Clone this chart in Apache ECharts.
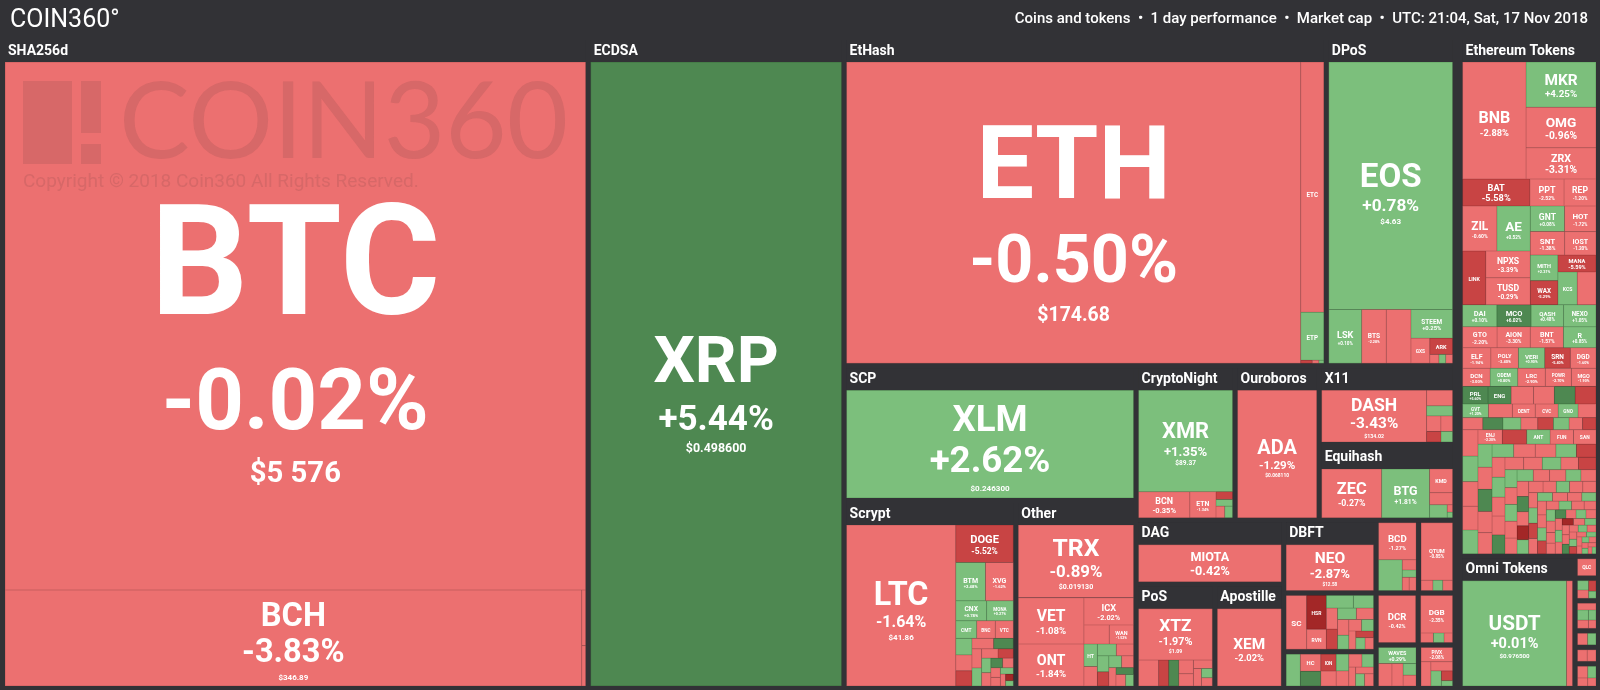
<!DOCTYPE html>
<html><head><meta charset="utf-8">
<script src="https://cdn.jsdelivr.net/npm/echarts@6/dist/echarts.min.js"></script>
<style>html,body{margin:0;padding:0;background:#323236;overflow:hidden}#c{width:1600px;height:690px}</style>
</head><body><div id="c"></div>
<script>
// ---------------- DATA ----------------
// coin: [symbol, tile weight (relative tile area), 1-day change %, price label]
const sha256d   = [['BTC',3068,-0.02,'$5 576'],['BCH',554,-3.83,'$346.89'],['NMC',2.2,-1.6],['PPC',1.6,-2.4]];
const ecdsa     = [['XRP',1566,5.44,'$0.498600']];
const etHash    = [['ETH',1361,-0.50,'$174.68'],['ETC',57.5,-1.52],['ETP',11,1.04],['UBQ',0.35,-6.2],['EXP',0.2,-2.1],['ELLA',0.15,1.3]];
const dPoS      = [['EOS',305,0.78,'$4.63'],['LSK',17.6,0.10],['BTS',13.2,-2.28],['NANO',13.2,-1.68],['STEEM',11.9,0.25],['GXS',4.7,-1.50],['ARK',3.7,-6.10],['SHIFT',0.8,-2.5],['OXY',0.6,1.8],['RISE',0.6,-3.1]];
const scp       = [['XLM',310,2.62,'$0.246300']];
const scrypt    = [['LTC',171,-1.64,'$41.86'],['DOGE',20.9,-5.52],['BTM',11.1,2.48],['XVG',10.4,-1.62],['CNX',6.0,0.78],['MONA',5.2,0.27],['CMT',3.6,1.60],['BNC',3.2,-2.04],['VTC',3.1,-2.6],['EMC2',2.6,1.9],['SYS',2.5,-4.1],['GRS',2.4,-6.3],['XMY',2.2,-1.1],['FTC',2.0,5.8],['NLG',1.8,-2.9],['VIA',1.7,0.9],['DGC',1.5,-3.4],['LCC',1.4,-7.2],['EXCL',1.3,2.2],['GAME',1.2,-1.9],['NYC',1.1,6.5],['MOON',1.0,-4.4],['CANN',0.9,-2.2],['PXC',0.8,-3.0],['BITB',0.8,1.1],['ZEIT',0.6,-1.5],['HYP',0.5,-8.6],['TIT',0.4,0.7]];
const otherTop  = ['TRX',82.8,-0.89,'$0.019130'];
const otherMid  = [['VET',29.9,-1.08],['ONT',27.3,-1.84]];
const otherSide = [['ICX',13.3,-2.02],['MOAC',4.8,-1.22],['WAN',4.6,-1.52],['HT',3.0,0.24],['NAS',2.6,-2.4],['WICC',2.2,1.6],['IOTX',2.0,-3.1],['SOC',1.8,0.7],['DDD',1.6,-5.6],['QKC',1.5,2.9],['ZB',1.4,-1.2],['BIX',1.3,-0.6],['ABT',1.2,6.1],['MDS',1.1,-2.2],['NEW',0.9,1.4]];
const cryptoNight = [['XMR',94.9,1.35,'$89.37'],['BCN',13.3,-0.35],['ETN',6.8,-1.34],['AEON',1.3,-6.4],['XHV',1.1,2.3],['LOKI',1.0,-2.0],['XTL',0.9,4.0]];
const ouroboros = [['ADA',100,-1.29,'$0.068110']];
const x11       = [['DASH',53.6,-3.43,'$134.02'],['ONION',4.0,-2.1],['GBX',2.6,0.8],['CRW',2.2,-1.5],['XSN',1.8,-3.0],['PAC',1.5,-6.5],['MUE',1.2,1.2]];
const equihash  = [['ZEC',29.4,-0.27],['BTG',23.5,1.81],['KMD',5.5,-1.21],['ZEN',2.8,-2.00],['BTCP',2.3,1.09],['ZCL',0.4,-3.3],['HUSH',0.3,2.0]];
const dag       = [['MIOTA',51.5,-0.42,'$0.416510']];
const pos       = [['XTZ',37.7,-1.97,'$1.09'],['ARDR',5.2,-1.80],['RDD',2.6,-5.6],['NXT',2.6,5.3],['BLK',2.0,-2.3],['POT',1.8,-1.1],['XWC',1.6,-2.7],['NAV',1.4,-0.9],['OK',1.0,3.1],['DCT',0.9,-4.4]];
const apostille = [['XEM',49.3,-2.02,'$0.086870']];
const dbft      = [['NEO',39.2,-2.87,'$12.58']];
const blake2b   = [['SC',11.2,-2.17],['HSR',6.8,-9.96],['RVN',4.0,-1.84],['BCT',3.5,2.21],['PART',2.6,1.4],['SKY',2.4,-2.2],['GBYTE',2.3,-6.9],['NXS',2.2,3.1],['EMC',2.0,-1.4],['BOS',1.8,-2.6],['XAS',1.6,0.6],['SMART',1.5,-3.5],['DGTX',1.4,2.4],['SBD',1.3,-1.1],['XDN',1.2,-6.0],['FCT',1.1,0.9],['NEBL',1.0,-2.3]];
const misc      = [['ELA',4.5,0.27],['HC',3.5,-2.1],['IGNIS',3.0,6.2],['ION',2.6,-7.5],['DTR',2.3,-1.6],['GAS',2.1,1.9],['NKN',1.9,-2.8],['XEL',1.7,-0.7],['MTL',1.5,2.6],['VTHO',1.3,-3.7],['UKG',1.2,-1.0],['EDR',1.1,4.4],['LBC',1.1,-2.4]];
const bcd       = [['BCD',13.7,-1.27],['STRAT',7.2,1.52],['BTX',1.4,-2.2],['BTCZ',1.0,3.2],['UBTC',0.9,-4.6],['LBTC',0.9,-1.3]];
const qtum      = [['QTUM',17.9,-0.85],['INK',1.2,-2.0],['QBT',1.0,2.4],['BOT',1.0,-1.1]];
const dcr       = [['DCR',17.5,-0.42]];
const dgb       = [['DGB',11.8,-2.35],['SIB',1.2,-1.9],['AUR',1.0,3.3],['UFO',0.8,-2.8]];
const waves     = [['WAVES',6.0,0.29],['WCT',3.0,-2.3],['MER',2.5,-1.7],['VST',1.5,2.1],['LIQ',1.4,-3.6]];
const pivx      = [['PIVX',4.5,-2.08],['PHR',2.4,-1.3],['XZC',2.0,-3.1],['DIVI',1.6,1.6],['CLOAK',1.1,-5.2],['BWK',0.6,2.2]];
const ethTop    = [['BNB',73.7,-2.88],['MKR',31.5,4.25],['OMG',28.0,-0.96],['ZRX',21.7,-3.31]];
const ethRow2   = [['BAT',18.1,-5.58],['PPT',9.2,-2.52],['REP',8.6,-1.20]];
const ethMidL   = [['ZIL',15.3,-0.60],['AE',14.9,0.52],['LINK',12.4,-6.10],['NPXS',11.9,-3.39],['TUSD',11.9,-0.29]];
const ethMidR   = [['GNT',8.7,0.08],['HOT',8.0,-1.72],['SNT',8.0,-1.38],['IOST',7.3,-1.20],['MITH',7.0,2.21],['WAX',6.6,-5.29],['MANA',6.4,-5.59],['KCS',6.3,0.16],['WTC',6.1,-0.57]];
const ethRestTotal = 330;
const ethRest   = [['DAI',5.6,0.10],['MCO',5.6,6.02],['QASH',5.3,0.48],['NEXO',5.3,1.05],['GTO',5.3,-2.20],['AION',5.1,-3.30],['BNT',5.1,-1.57],['R',5.0,0.85],['ELF',4.3,-1.94],['POLY',4.2,-3.40],['VERI',4.0,0.90],['SRN',3.9,-5.40],['DGD',3.9,-1.60],['DCN',3.7,-3.00],['ODEM',3.7,0.80],['LRC',3.7,-2.90],['POWR',3.5,-2.70],['MGO',3.3,-1.90],['PRL',3.3,5.60],['ENG',3.0,5.20],['DROP',2.9,-3.20],['CENNZ',2.7,-2.50],['CTXC',2.7,5.40],['SALT',2.7,-6.30],['GVT',2.6,1.20],['DRGN',2.4,-2.30],['DENT',2.3,-2.10],['CVC',2.3,-1.40],['GNO',2.0,1.40],['RHOC',1.8,-2.40],['CS',1.8,-1.10],['SLT',1.8,5.30],['RDN',1.6,1.60],['SUB',1.5,-1.90],['NULS',1.4,-5.30],['EDO',1.4,0.70],['FSN',1.2,-1.00],['GNX',1.2,-6.40],
  ['KNC',3.0,-2.6],['LOOM',2.9,1.3],['STORM',2.8,-3.9],['QSP',2.7,-1.2],['REQ',2.7,0.6],['ENJ',2.6,-2.2],['STORJ',2.6,-6.1],['ANT',2.5,1.9],['FUN',2.5,-0.9],['SAN',2.4,-3.1],['RLC',2.4,0.4],['BLZ',2.3,-1.7],['TNT',2.3,5.6],['AST',2.2,-2.8],['MTH',2.2,-0.4],['RCN',2.1,2.7],['WINGS',2.1,-4.4],['MLN',2.0,-1.3],['DNT',2.0,0.8],['IHT',1.9,-7.0],['THETA',1.9,-2.0],['INS',1.9,1.5],['HYDRO',1.8,-1.1],['TEL',1.8,-3.6],['DTA',1.8,6.3],['ABYSS',1.7,-0.7],['BFT',1.7,-2.4],['CPC',1.7,1.0],['DATA',1.6,-1.9],['EDG',1.6,-5.7],['GEN',1.6,0.3],['LYM',1.5,-2.9],['MFT',1.5,2.2],['NCASH',1.5,-1.4],['OCN',1.4,-3.3],['POE',1.4,0.9],['REN',1.4,-0.6],['SPANK',1.4,-2.5],['TAAS',1.3,1.7],['UTK',1.3,-4.0],['VIB',1.3,-1.0],['WPR',1.3,5.9],['XYO',1.2,-2.1],['YOYO',1.2,-8.4],['ZCO',1.2,0.5],['AMB',1.2,-1.6],['APPC',1.1,-3.0],['ARN',1.1,2.9],['BCPT',1.1,-0.8],['CDT',1.1,-2.7],['CND',1.0,-1.2],['COV',1.0,1.1],['DLT',1.0,-5.2],['EVX',1.0,-2.3],['GTC',0.95,0.7],['HST',0.95,-1.8],['KEY',0.9,-3.4],['LEND',0.9,4.1],['LUN',0.9,-0.5],['MDA',0.85,-2.2],['MOD',0.85,1.6],['NGC',0.85,-6.8],['OAX',0.8,-1.5],['PAY',0.8,0.2],['PPP',0.8,-2.6],['SNM',0.75,-1.0],['SNGLS',0.75,3.4],['TRAC',0.75,-3.8],['VEE',0.7,-0.9],['AIDOC',0.7,-2.0],['ATMI',0.7,6.6],['BOX',0.65,-1.4],['CAPP',0.65,0.9],['DAX',0.65,-4.7],['EKO',0.6,-2.9],['FOTA',0.6,1.4],['GET',0.6,-0.3],['HER',0.55,-9.1],['IPL',0.55,-1.7],['JNT',0.55,2.5],['LALA',0.5,-2.4],['MAN',0.5,-0.8],['NPER',0.5,7.2],['OST',0.45,-1.3],['PRO',0.45,0.6],['QAU',0.45,-3.5],['RUFF',0.4,-1.9],['SHIP',0.4,1.8],['TIO',0.4,-5.9],['UCASH',0.35,-0.7],['VIT',0.35,2.0],['XNK',0.35,-2.8],['YEE',0.3,-1.1],['ZAP',0.3,3.6],['AUC',0.3,-4.2],['BEE',0.25,-0.4],['CL',0.25,1.2],['DOR',0.25,-2.6],['EXRN',0.2,-1.6],['FLIXX',0.2,0.8]];
const omni      = [['USDT',108,0.01,'$0.976500'],['MAID',6.2,-1.9]];
const neoTok    = [['QLC',3.1,-2.6]];
const wavesTok  = [['TKY',1.6,1.2],['DBC',1.4,-2.2],['ZPT',1.2,-5.5],['THC',0.8,0.9]];
const xlmTok    = [['OPEN',1.8,-1.0],['CPX',1.6,0.6],['ACAT',1.3,-3.3],['SWTH',1.1,2.8],['MOBI',0.9,-1.6]];
const eosTok    = [['AVT',1.2,-1.7],['EFX',1.0,1.1]];
const btsTok    = [['SOUL',1.1,-2.5],['LRN',1.0,-0.9]];
const trxTok    = [['TNC',1.6,-1.8],['PKC',1.3,2.0],['ONG',1.1,-4.1],['RPX',0.9,-0.6]];

// group name, total tile weight of the group (incl. its header band), its coins (or sub-blocks)
const groupTotals = [
  ['SHA256d',3815,sha256d],['ECDSA',1667,ecdsa],['EtHash',1584,etHash],['DPoS',423,dPoS],['SCP',394,scp],
  ['Scrypt',323,scrypt],['Other',226,[otherTop,[otherMid,otherSide]]],['CryptoNight',153,cryptoNight],['Ouroboros',130,ouroboros],
  ['X11',107,x11],['Equihash',103,equihash],['DAG',94.7,dag],['PoS',82.2,pos],['Apostille',71.8,apostille],['DBFT',67.2,dbft],
  ['Blake2b',54.3,blake2b],['Misc',34.0,misc],['BCD',31.0,bcd],['QTUM',26.6,qtum],['DCR',21.9,dcr],['DGB',19.2,dgb],
  ['WAVES',18.5,waves],['PIVX',15.9,pivx],
  ['Ethereum Tokens',742,[ethTop,ethRow2,[ethMidL,ethMidR],{total:ethRestTotal,list:ethRest}]],
  ['Omni Tokens',157,omni],['NEO Tokens',5.3,neoTok],['Waves Tokens',5.5,wavesTok],['Stellar Tokens',7.3,xlmTok],
  ['EOS Tokens',4.0,eosTok],['Bitshares Tokens',4.0,btsTok],['TRON Tokens',6.0,trxTok]
];
// how the groups are nested (coins | tokens)
const arrangement = [
  ['SHA256d','ECDSA',[['EtHash','DPoS'],[['SCP',['Scrypt','Other']],[['CryptoNight',['Ouroboros',['X11','Equihash']]],[['DAG',['PoS','Apostille']],[['DBFT','Blake2b','Misc'],[['BCD','QTUM'],['DCR','DGB'],['WAVES','PIVX']]]]]]]],
  ['Ethereum Tokens',['Omni Tokens',['NEO Tokens','Waves Tokens','Stellar Tokens','EOS Tokens','Bitshares Tokens','TRON Tokens']]]
];

// ---------------- STYLE ----------------
const BG = '#323236';
const FONT = "Roboto,'Open Sans',sans-serif";
function tier(c){ if (c >= 5) return 0; if (c >= 0) return 1; if (c > -5) return 2; if (c > -8) return 3; return 4; }
const FILL = ['#4E8851','#7CBF7C','#EC7070','#C84444','#A32727'];
const EDGE = ['#3E7241','#63A463','#C95E5E','#A83737','#861D1D'];

const mctx = document.createElement('canvas').getContext('2d');
function emW(t){ mctx.font = 'bold 100px ' + FONT; return mctx.measureText(t).width / 100; }
function shadow(f){ const o = Math.max(0.6, f*0.04); return {textShadowColor:'rgba(28,22,22,0.8)', textShadowOffsetX:o, textShadowOffsetY:o, textShadowBlur:0}; }
function rs(f, lh){ return Object.assign({fontSize:f, lineHeight:lh, height:lh, verticalAlign:'middle', fontWeight:'bold', fontFamily:FONT, color:'#fff', align:'center'}, shadow(f)); }
const LH = [1.1, 1.12, 1.3];
function labelFor(name, chg, price, w, h){
  const pct = (chg >= 0 ? '+' : '') + chg.toFixed(2) + '%';
  let nf = Math.min(0.34*h, 0.5*w/emW(name));
  let pf = Math.min(0.36*h, 0.46*w/emW(pct), nf);
  let vf = price ? Math.min(0.3*nf, Math.max(0.19*nf, 8), 0.3*w/emW(price)) : 0;
  let block = nf*LH[0] + pf*LH[1] + (vf >= 4.5 ? vf*LH[2] : 0);
  if (block > 0.95*h){ const s = 0.95*h/block; nf*=s; pf*=s; vf*=s; }
  if (nf < 4.5 || w < 9) return {show:false};
  const showP = pf >= 3.5, showV = showP && vf >= 4.5;
  const lines = ['{n|'+name+'}']; let bh = nf*LH[0];
  if (showP){ lines.push('{p|'+pct+'}'); bh += pf*LH[1]; }
  if (showV){ lines.push('{v|'+price+'}'); bh += vf*LH[2]; }
  const top = Math.max(0, Math.min(h - bh, (h - bh)/2 + 0.03*h));
  return {show:true, position:'inside', overflow:'none', padding:[top,0,0,0],
    formatter: lines.join('\n'), rich:{n:rs(nf,nf*LH[0]), p:rs(pf,pf*LH[1]), v:rs(vf,vf*LH[2])}};
}

// ---------------- BUILD ----------------
const groupMap = {}; groupTotals.forEach(g => groupMap[g[0]] = g);
let seq = 0;
function isCoin(x){ return Array.isArray(x) && typeof x[0] === 'string' && typeof x[1] === 'number'; }
function coinNode(c, sizes){
  const key = 'k' + (seq++);
  const t = tier(c[2]);
  const sz = sizes && sizes[key];
  return {name:c[0], value:c[1], key:key,
    itemStyle:{color:FILL[t], borderColor:EDGE[t], borderWidth:0.5},
    label: sz ? labelFor(c[0], c[2], c[3] || '', sz.w, sz.h) : {show:false}};
}
const plainStyle = g => ({borderWidth:0, gapWidth:g, borderColor:BG});
function blockNode(b, sizes){
  const list = Array.isArray(b) ? b : b.list;
  const n = {name:'', itemStyle:plainStyle(0), upperLabel:{show:false},
    children:list.map(x => isCoin(x) ? coinNode(x, sizes) : blockNode(x, sizes))};
  if (!Array.isArray(b)) n.value = b.total;
  return n;
}
function groupNode(name, sizes){
  const g = groupMap[name];
  return {name:name, value:g[1], itemStyle:plainStyle(0),
    upperLabel:{show:g[1] >= 60, height:22, position:[3,'50%'], verticalAlign:'middle', padding:0, lineHeight:22,
      color:'#fff', fontFamily:FONT, fontWeight:'bold', fontSize:14, overflow:'truncate',
      textShadowColor:'rgba(0,0,0,0.85)', textShadowOffsetX:1, textShadowOffsetY:1.5},
    children:g[2].map(x => isCoin(x) ? coinNode(x, sizes) : blockNode(x, sizes))};
}
function arrNode(a, sizes){
  if (typeof a === 'string') return groupNode(a, sizes);
  return {name:'', itemStyle:plainStyle(5), upperLabel:{show:false}, children:a.map(x => arrNode(x, sizes))};
}

function buildOption(sizes){
  seq = 0;
  const data = arrangement.map(a => arrNode(a, sizes));
  const wm = 'rgba(150,80,80,0.25)';
  return {
    backgroundColor: BG, animation:false,
    graphic:[
      {type:'text', left:10, top:8, style:{text:'COIN360°', fill:'#fff', font:'25px ' + FONT}},
      {type:'text', right:12, top:12, style:{text:'Coins and tokens  •  1 day performance  •  Market cap  •  UTC: 21:04, Sat, 17 Nov 2018', fill:'#fff', font:'500 15px ' + FONT}},
      {type:'rect', z:100, silent:true, shape:{x:23, y:81, width:49, height:83}, style:{fill:wm}},
      {type:'rect', z:100, silent:true, shape:{x:81, y:81, width:20, height:52}, style:{fill:wm}},
      {type:'rect', z:100, silent:true, shape:{x:81, y:144, width:20, height:20}, style:{fill:wm}},
      {type:'text', z:100, silent:true, x:119, y:124, style:{text:'COIN360', fill:wm, font:'400 106px Lato, sans-serif', textVerticalAlign:'middle'}},
      {type:'text', z:100, silent:true, x:23, y:182, style:{text:'Copyright © 2018 Coin360 All Rights Reserved.', fill:wm, font:'19px ' + FONT, textVerticalAlign:'middle'}}
    ],
    series:[{
      type:'treemap', left:5, top:40, right:4, bottom:4,
      roam:false, nodeClick:false, breadcrumb:{show:false}, sort:false, squareRatio:0.7,
      visibleMin:0, drillDownIcon:'', silent:true,
      itemStyle:{borderWidth:0, gapWidth:0, borderColor:BG},
      levels:[{itemStyle:{borderWidth:0, gapWidth:10, borderColor:BG}, upperLabel:{show:false}}],
      label:{show:false}, upperLabel:{show:false},
      data:data
    }]
  };
}

const chart = echarts.init(document.getElementById('c'));
chart.setOption(buildOption(null), true);
const sizes = {};
try {
  const model = chart.getModel ? chart.getModel() : chart._model;
  const sd = model.getSeriesByIndex(0).getData();
  sd.tree.root.eachNode(function(node){
    const raw = sd.getRawDataItem(node.dataIndex);
    if (raw && raw.key){ const l = node.getLayout(); if (l) sizes[raw.key] = {w:l.width, h:l.height}; }
  });
} catch(e) { console.error(e); }
chart.setOption(buildOption(sizes), true);
</script></body></html>
